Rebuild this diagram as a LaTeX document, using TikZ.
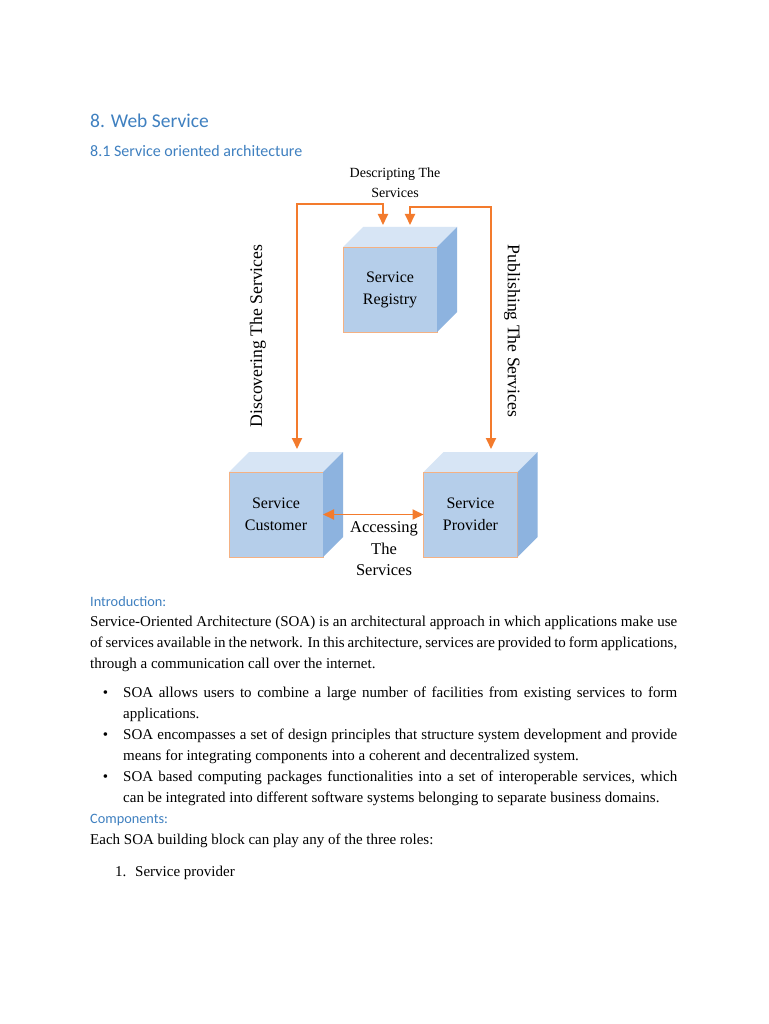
\documentclass[tikz,border=0pt]{standalone}
\usepackage{fontspec}
\setmainfont{Liberation Serif}
\newfontfamily\headfont{Carlito}
\usetikzlibrary{arrows.meta,calc}
\definecolor{headblue}{HTML}{3F80C0}
\definecolor{linkorange}{HTML}{F37B2D}
\definecolor{facefront}{HTML}{B5CEEA}
\definecolor{facetop}{HTML}{D7E5F5}
\definecolor{faceside}{HTML}{8DB3DF}
\definecolor{faceedge}{HTML}{F4B183}

\begin{document}
\begin{tikzpicture}[x=1pt,y=1pt,
  txt/.style={inner sep=0pt,anchor=base west,font=\fontsize{15}{21}\selectfont},
  head/.style={inner sep=0pt,anchor=base west,text=headblue},
  cube/.style={draw=faceedge,fill=facefront,line width=0.6pt,minimum width=94pt,minimum height=85pt,
    inner sep=0pt,outer sep=0pt,align=center,font=\fontsize{16}{22}\selectfont},
  link/.style={draw=linkorange,line width=1.8pt,{Triangle[length=11pt,width=10pt]}-{Triangle[length=11pt,width=10pt]}},
  lbl/.style={inner sep=0pt,align=center}]

\fill[white] (0,0) rectangle (768,-1024);
\useasboundingbox (0,0) rectangle (768,-1024);

\node[head,font=\headfont\fontsize{19.5}{24}\selectfont] (webservice) at (90,-128) {8. Web Service};
\node[head,font=\headfont\fontsize{16}{20}\selectfont] (soa) at (90,-157) {8.1 Service oriented architecture};

% the three boxes
\foreach \nm/\cx/\cy/\lb in {registry/390/-289.5/{Service\\Registry},
    customer/276/-514.5/{Service\\Customer}, provider/470.5/-514.5/{Service\\Provider}}{
  \node[cube] (\nm) at (\cx,\cy) {\lb};
  \fill[facetop] (\nm.north west) -- ++(20,20) -- ++(94,0) -- (\nm.north east) -- cycle;
  \fill[faceside] (\nm.north east) -- ++(20,20) -- ++(0,-85) -- ++(-20,-20) -- cycle;
  \draw[faceedge,line width=0.6pt] (\nm.north west) -- (\nm.north east);
}

\draw[link] ([xshift=21pt,yshift=23pt]customer.north) -- ++(0,245) -| ([xshift=-7pt,yshift=22pt]registry.north);
\draw[link] ([xshift=20.5pt,yshift=23pt]provider.north) -- ++(0,242) -| ([xshift=20pt,yshift=22pt]registry.north);
\draw[link] (customer.east) -- (provider.west);

\node[lbl,font=\fontsize{14}{20}\selectfont] (describe) at (395,-183) {Descripting The\\Services};
\node[lbl,rotate=90,font=\fontsize{17.7}{20}\selectfont] (discover) at (258,-336) {Discovering The Services};
\node[lbl,rotate=-90,font=\fontsize{17.7}{20}\selectfont] (publish) at (512,-331) {Publishing The Services};
\node[lbl,font=\fontsize{16.5}{21.5}\selectfont] (access) at (384,-549) {Accessing\\The\\Services};

% text under the figure
\node[head,font=\headfont\fontsize{14.3}{17}\selectfont] (intro) at (90,-606) {Introduction:};
\node[txt] (par1) at (90,-626) {\makebox[587pt][s]{Service-Oriented Architecture (SOA) is an architectural approach in which applications make use}};
\node[txt] (par2) at (90,-647) {\makebox[587pt][s]{of services available in the network. In this architecture, services are provided to form applications,}};
\node[txt] (par3) at (90,-668) {through a communication call over the internet.};

\foreach \y [count=\i] in {697,739,781} \node[txt,anchor=base] (dot\i) at (105.5,-\y) {•};
\node[txt] (item1a) at (123,-697) {\makebox[554pt][s]{SOA allows users to combine a large number of facilities from existing services to form}};
\node[txt] (item1b) at (123,-718) {applications.};
\node[txt] (item2a) at (123,-739) {\makebox[554pt][s]{SOA encompasses a set of design principles that structure system development and provide}};
\node[txt] (item2b) at (123,-760) {means for integrating components into a coherent and decentralized system.};
\node[txt] (item3a) at (123,-781) {\makebox[554pt][s]{SOA based computing packages functionalities into a set of interoperable services, which}};
\node[txt] (item3b) at (123,-802) {can be integrated into different software systems belonging to separate business domains.};

\node[head,font=\headfont\fontsize{14.3}{17}\selectfont] (comp) at (90,-823) {Components:};
\node[txt] (roles) at (90,-844) {Each SOA building block can play any of the three roles:};
\node[txt] (num1) at (115,-876) {1.};
\node[txt] (role1) at (135,-876) {Service provider};

\end{tikzpicture}
\end{document}
